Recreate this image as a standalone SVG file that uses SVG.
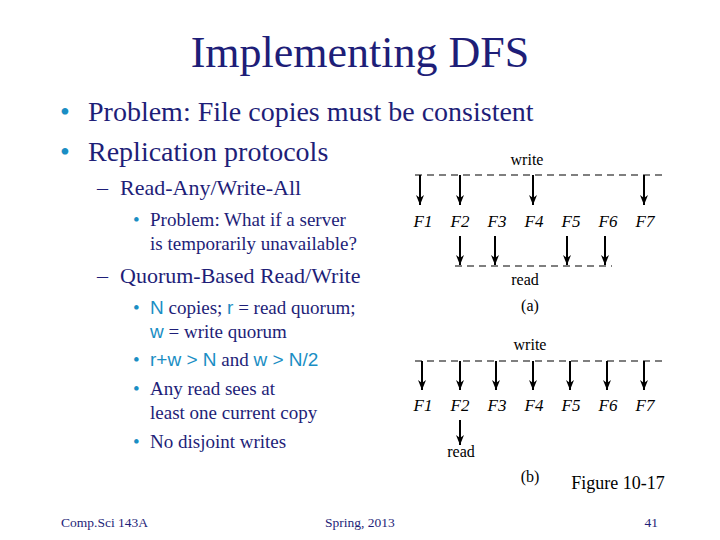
<svg xmlns="http://www.w3.org/2000/svg" width="720" height="540" viewBox="0 0 720 540">
<defs>
<marker id="ah" markerWidth="10" markerHeight="8" refX="10" refY="4" orient="auto" markerUnits="userSpaceOnUse" viewBox="0 0 10 8"><path d="M0,0 L10,4 L0,8 L3,4 Z" fill="#000"/></marker>
<style>
text{font-family:"Liberation Serif",serif;fill:#1e1e78}
.s{font-family:"Liberation Sans",sans-serif;fill:#1a8ec4}
.bu{fill:#1a8ec4}
.dash{stroke:#555;stroke-width:1.5;stroke-dasharray:7,5;fill:none}
.ar{stroke:#000;stroke-width:2;marker-end:url(#ah)}
.f{font-size:17px;font-style:italic;text-anchor:middle;fill:#000}
.l{font-size:16px;text-anchor:middle;fill:#000}
.b1{font-size:28px}.b2{font-size:22px}.b3{font-size:19px}
</style>
</defs>
<rect width="720" height="540" fill="#fff"/>
<text x="360" y="67" font-size="44" text-anchor="middle">Implementing DFS</text>
<text class="b1 bu" x="60" y="121">•</text><text class="b1" x="88" y="121">Problem: File copies must be consistent</text>
<text class="b1 bu" x="60" y="161">•</text><text class="b1" x="88" y="161">Replication protocols</text>
<text class="b2" x="97" y="195">–</text><text class="b2" x="120" y="195">Read-Any/Write-All</text>
<text class="b3 bu" x="133" y="226">•</text><text class="b3" x="150" y="226">Problem: What if a server</text>
<text class="b3" x="150" y="250">is temporarily unavailable?</text>
<text class="b2" x="97" y="283">–</text><text class="b2" x="120" y="283">Quorum-Based Read/Write</text>
<text class="b3 bu" x="133" y="314">•</text><text class="b3" x="150" y="314"><tspan class="s">N</tspan> copies; <tspan class="s">r</tspan> = read quorum;</text>
<text class="b3" x="150" y="338"><tspan class="s">w</tspan> = write quorum</text>
<text class="b3 bu" x="133" y="366">•</text><text class="b3" x="150" y="366"><tspan class="s">r+w &gt; N</tspan>  and  <tspan class="s">w &gt; N/2</tspan></text>
<text class="b3 bu" x="133" y="395">•</text><text class="b3" x="150" y="395">Any read sees at</text>
<text class="b3" x="150" y="419">least one current copy</text>
<text class="b3 bu" x="133" y="448">•</text><text class="b3" x="150" y="448">No disjoint writes</text>
<g id="figA">
<text class="l" x="527" y="165">write</text>
<line class="dash" x1="415" y1="175" x2="662" y2="175"/>
<text class="f" x="423" y="227">F1</text><text class="f" x="460" y="227">F2</text><text class="f" x="497" y="227">F3</text><text class="f" x="534" y="227">F4</text><text class="f" x="571" y="227">F5</text><text class="f" x="608" y="227">F6</text><text class="f" x="645" y="227">F7</text>
<line class="dash" x1="455" y1="266" x2="612" y2="266"/>
<text class="l" x="525" y="285">read</text>
<text class="l" x="530" y="311">(a)</text>
</g>
<g id="figB">
<text class="l" x="530" y="350">write</text>
<line class="dash" x1="415" y1="361" x2="662" y2="361"/>
<text class="f" x="423" y="411">F1</text><text class="f" x="460" y="411">F2</text><text class="f" x="497" y="411">F3</text><text class="f" x="534" y="411">F4</text><text class="f" x="571" y="411">F5</text><text class="f" x="608" y="411">F6</text><text class="f" x="645" y="411">F7</text>
<text class="l" x="461" y="457">read</text>
<text class="l" x="530" y="482">(b)</text>
</g>
<g id="connectors">
<line class="ar" x1="420" y1="175" x2="420" y2="205"/>
<line class="ar" x1="460" y1="175" x2="460" y2="205"/>
<line class="ar" x1="533" y1="175" x2="533" y2="205"/>
<line class="ar" x1="644" y1="175" x2="644" y2="205"/>
<line class="ar" x1="460" y1="236" x2="460" y2="265"/>
<line class="ar" x1="495" y1="236" x2="495" y2="265"/>
<line class="ar" x1="567" y1="236" x2="567" y2="265"/>
<line class="ar" x1="605" y1="236" x2="605" y2="265"/>
<line class="ar" x1="422" y1="361" x2="422" y2="390"/>
<line class="ar" x1="460" y1="361" x2="460" y2="390"/>
<line class="ar" x1="496" y1="361" x2="496" y2="390"/>
<line class="ar" x1="533" y1="361" x2="533" y2="390"/>
<line class="ar" x1="570" y1="361" x2="570" y2="390"/>
<line class="ar" x1="607" y1="361" x2="607" y2="390"/>
<line class="ar" x1="644" y1="361" x2="644" y2="390"/>
<line class="ar" x1="460" y1="420" x2="460" y2="445"/>
</g>
<text x="618" y="489" font-size="18" text-anchor="middle" fill="#000" style="fill:#000">Figure 10-17</text>
<text x="61" y="527" font-size="13.5">Comp.Sci 143A</text>
<text x="360" y="527" font-size="13.5" text-anchor="middle">Spring, 2013</text>
<text x="658" y="527" font-size="13.5" text-anchor="end">41</text>
</svg>
